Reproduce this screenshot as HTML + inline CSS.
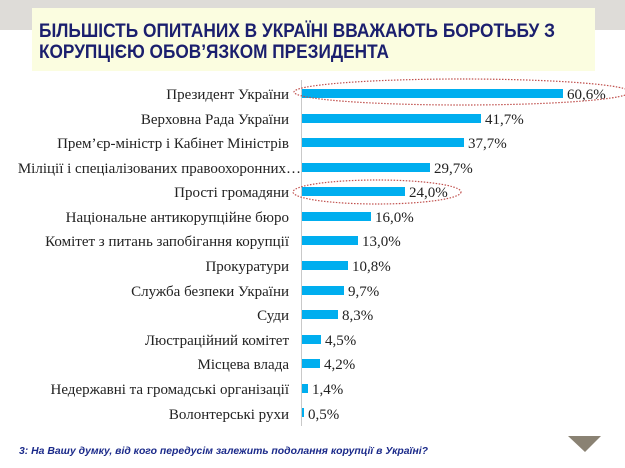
<!DOCTYPE html>
<html><head><meta charset="utf-8"><style>
html,body{margin:0;padding:0;width:625px;height:468px;overflow:hidden;background:#fff;}
</style></head><body>
<svg width="625" height="468" xmlns="http://www.w3.org/2000/svg">
<rect x="0" y="0" width="625" height="30" fill="#dedcd8"/>
<rect x="32" y="8" width="563" height="63" fill="#fbfde0"/>
<g font-family="'Liberation Sans Narrow','Liberation Sans',sans-serif" font-weight="bold" font-size="19" fill="#1b1f6e">
<text x="39" y="37" textLength="516" lengthAdjust="spacingAndGlyphs">БІЛЬШІСТЬ ОПИТАНИХ В УКРАЇНІ ВВАЖАЮТЬ БОРОТЬБУ З</text>
<text x="39" y="58" textLength="350" lengthAdjust="spacingAndGlyphs">КОРУПЦІЄЮ ОБОВ’ЯЗКОМ ПРЕЗИДЕНТА</text>
</g>
<g stroke="#c9c9c9" stroke-width="1">
<line x1="301.5" y1="80" x2="301.5" y2="426"/>
</g>
<g font-family="'Liberation Serif',serif" font-size="15" fill="#222">
<g text-anchor="end">
<text x="289" y="99">Президент України</text>
<text x="289" y="124">Верховна Рада України</text>
<text x="289" y="148">Прем’єр-міністр і Кабінет Міністрів</text>
<text x="301" y="173">Міліції і спеціалізованих правоохоронних…</text>
<text x="289" y="197">Прості громадяни</text>
<text x="289" y="222">Національне антикорупційне бюро</text>
<text x="289" y="246">Комітет з питань запобігання корупції</text>
<text x="289" y="271">Прокуратури</text>
<text x="289" y="296">Служба безпеки України</text>
<text x="289" y="320">Суди</text>
<text x="289" y="345">Люстраційний комітет</text>
<text x="289" y="369">Місцева влада</text>
<text x="289" y="394">Недержавні та громадські організації</text>
<text x="289" y="419">Волонтерські рухи</text>
</g>
</g>
<g fill="#00aeef">
<rect x="302" y="89" width="261" height="9"/>
<rect x="302" y="114" width="179" height="9"/>
<rect x="302" y="138" width="162" height="9"/>
<rect x="302" y="163" width="128" height="9"/>
<rect x="302" y="187" width="103" height="9"/>
<rect x="302" y="212" width="69" height="9"/>
<rect x="302" y="236" width="56" height="9"/>
<rect x="302" y="261" width="46" height="9"/>
<rect x="302" y="286" width="42" height="9"/>
<rect x="302" y="310" width="36" height="9"/>
<rect x="302" y="335" width="19" height="9"/>
<rect x="302" y="359" width="18" height="9"/>
<rect x="302" y="384" width="6" height="9"/>
<rect x="302" y="408" width="2" height="9"/>
</g>
<g font-family="'Liberation Serif',serif" font-size="15" fill="#222">
<text x="567" y="99">60,6%</text>
<text x="485" y="124">41,7%</text>
<text x="468" y="148">37,7%</text>
<text x="434" y="173">29,7%</text>
<text x="409" y="197">24,0%</text>
<text x="375" y="222">16,0%</text>
<text x="362" y="246">13,0%</text>
<text x="352" y="271">10,8%</text>
<text x="348" y="296">9,7%</text>
<text x="342" y="320">8,3%</text>
<text x="325" y="345">4,5%</text>
<text x="324" y="369">4,2%</text>
<text x="312" y="394">1,4%</text>
<text x="308" y="419">0,5%</text>
</g>
<g fill="none" stroke="#c0504d" stroke-width="1.2" stroke-dasharray="1.5,1.5">
<ellipse cx="462" cy="92" rx="168" ry="13"/>
<ellipse cx="377" cy="192" rx="84" ry="12"/>
</g>
<polygon points="568,436 601,436 585,452" fill="#8a8273"/>
<text x="19" y="454" textLength="409" lengthAdjust="spacingAndGlyphs" font-family="'Liberation Sans',sans-serif" font-style="italic" font-weight="bold" font-size="10" fill="#1b2a8a">3: На Вашу думку, від кого передусім залежить подолання корупції в Україні?</text>
</svg>
</body></html>
